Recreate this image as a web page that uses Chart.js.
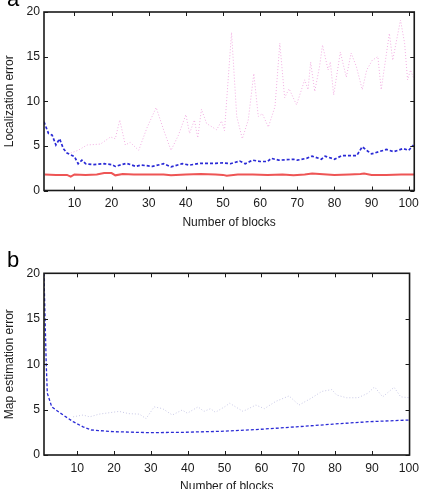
<!DOCTYPE html>
<html>
<head>
<meta charset="utf-8">
<script src="https://cdn.jsdelivr.net/npm/chart.js@4.4.1/dist/chart.umd.min.js"></script>
<style>
  html, body { margin: 0; padding: 0; background: #fff; overflow: hidden; }
  #wrap { position: relative; width: 425px; height: 489px; overflow: hidden; }
  canvas { position: absolute; left: 0; }
  #cA { top: 0; }
  #cB { top: 244px; }
  .lbl { position: absolute; font-family: 'Liberation Sans', Arial, sans-serif; font-size: 22px; line-height: 1; color: #000; }
</style>
</head>
<body>
<div id="wrap">
  <canvas id="cA" width="425" height="244"></canvas>
  <canvas id="cB" width="425" height="265"></canvas>
  <div class="lbl" style="left:7px; top:-12px;">a</div>
  <div class="lbl" style="left:7px; top:249px;">b</div>
</div>
<script>
// ticks
const xTicks = [10, 20, 30, 40, 50, 60, 70, 80, 90, 100];
const yTicks = [0, 5, 10, 15, 20];

// panel a - localization error
const redX = [2, 5, 8, 9, 10, 13, 16, 18, 20, 21, 23, 26, 30, 34, 36, 40, 44, 48, 50, 51, 54, 58, 62, 66, 69, 72, 74, 76, 80, 84, 87, 88, 90, 94, 98, 101.5];
const redY = [1.8, 1.75, 1.75, 1.55, 1.8, 1.75, 1.8, 1.95, 1.95, 1.7, 1.85, 1.8, 1.8, 1.8, 1.7, 1.8, 1.85, 1.8, 1.75, 1.65, 1.8, 1.8, 1.75, 1.8, 1.7, 1.8, 1.9, 1.85, 1.75, 1.8, 1.85, 1.9, 1.75, 1.75, 1.8, 1.8];

const blueX = [1.8, 3, 4, 5, 6, 7, 8, 10, 11, 12, 13, 15, 18, 20, 21, 24, 26.5, 28, 31, 34, 36, 39, 41, 44, 48, 50, 52, 54.5, 56, 58, 60, 62, 63, 65, 67, 69, 70, 72.5, 74, 76.5, 77.5, 80, 82, 86, 87.5, 89, 90, 92, 94, 96, 98.5, 100, 101.3];
const blueY = [7.7, 6.4, 6.2, 5.1, 5.8, 4.7, 4.2, 3.8, 3.0, 3.4, 3.0, 2.9, 3.0, 2.9, 2.7, 3.05, 2.7, 2.85, 2.7, 3.0, 2.65, 3.0, 2.85, 3.05, 3.05, 3.1, 3.0, 3.3, 3.0, 3.4, 3.25, 3.25, 3.6, 3.4, 3.45, 3.5, 3.4, 3.6, 3.85, 3.5, 3.85, 3.5, 3.9, 3.9, 4.9, 4.4, 4.1, 4.35, 4.6, 4.35, 4.7, 4.5, 5.1];

const pinkX = [9, 11, 13.4, 17, 19.7, 21, 22.2, 23.7, 25, 27.3, 29.5, 32, 34, 36, 38, 40, 41, 42.3, 43.2, 44.2, 45.6, 48.3, 49.6, 50.4, 52.3, 53.7, 55.2, 56.8, 58.3, 59.5, 60.6, 62.2, 64, 65.3, 66.6, 67.8, 69.8, 72, 72.9, 73.6, 74.7, 76, 76.8, 78.3, 78.9, 79.8, 81.6, 83.2, 84.5, 85.9, 87.5, 88.7, 90.2, 91.7, 92.6, 94.8, 95.7, 97.8, 98.9, 99.7, 100.5, 101.5];
const pinkY = [4.2, 4.5, 5.1, 5.2, 6.0, 5.8, 7.9, 5.1, 5.4, 4.5, 7.0, 9.3, 6.8, 4.5, 6.2, 8.5, 6.4, 7.9, 5.9, 9.1, 7.5, 6.8, 7.8, 6.7, 17.7, 8.3, 5.8, 7.9, 13.1, 8.3, 8.6, 7.1, 9.4, 16.5, 10.4, 11.4, 9.6, 12.4, 11.3, 14.4, 11.1, 13.9, 16.3, 13.5, 14.4, 10.7, 15.5, 12.7, 15.4, 13.9, 11.3, 13.5, 14.6, 15.0, 11.3, 17.6, 14.6, 19.1, 16.5, 12.4, 13.5, 12.4];

// panel b - map estimation error
const mapX = [1, 1.1, 1.3, 1.6, 1.9, 3.1, 5.3, 8.9, 11.6, 13.9, 19.7, 29.5, 39, 50, 59.7, 69.5, 79.4, 89.3, 100.2];
const mapY = [20, 18.2, 14.9, 10.1, 6.8, 5.3, 4.65, 3.67, 3.1, 2.75, 2.57, 2.46, 2.5, 2.62, 2.83, 3.1, 3.4, 3.67, 3.85];

const mapLightX = [8.9, 11.6, 13.4, 16, 18.7, 21.4, 24, 26.9, 28.7, 30.9, 33.2, 35.8, 38.5, 39.9, 42.8, 44.4, 46.2, 47.5, 50, 51.4, 55, 58.5, 60.8, 63.9, 67.5, 70.2, 73.3, 76.4, 79.1, 80.4, 83.1, 86.2, 88.9, 90.7, 92.9, 96, 97.8, 100.2];
const mapLightY = [4.2, 4.4, 4.2, 4.5, 4.65, 4.8, 4.55, 4.5, 4.0, 5.3, 5.1, 4.4, 4.95, 4.6, 5.3, 4.8, 5.1, 4.7, 5.3, 5.7, 4.8, 5.5, 5.1, 5.9, 6.5, 5.5, 6.2, 7.0, 7.2, 6.6, 6.3, 6.3, 6.8, 7.5, 6.4, 7.45, 6.4, 6.3];

function pts(xs, ys) {
    return xs.map((x, i) => ({ x: x, y: ys[i] }));
}

const fontTick = { family: "'Liberation Sans', Arial, sans-serif", size: 12.2 };
const fontTitle = { family: "'Liberation Sans', Arial, sans-serif", size: 12 };

// box round the plot with inward ticks on all four sides
const frameTicks = {
    id: 'frameTicks',
    afterDatasetsDraw(chart) {
        const { ctx, chartArea: a, scales: { x, y } } = chart;
        ctx.save();
        ctx.strokeStyle = '#1a1a1a';
        ctx.lineWidth = 1;
        ctx.beginPath();
        x.ticks.forEach(t => {
            const px = Math.round(x.getPixelForValue(t.value)) + 0.5;
            ctx.moveTo(px, a.bottom); ctx.lineTo(px, a.bottom - 4);
            ctx.moveTo(px, a.top); ctx.lineTo(px, a.top + 4);
        });
        y.ticks.forEach(t => {
            const py = Math.round(y.getPixelForValue(t.value)) + 0.5;
            ctx.moveTo(a.left, py); ctx.lineTo(a.left + 4, py);
            ctx.moveTo(a.right, py); ctx.lineTo(a.right - 4, py);
        });
        ctx.stroke();
        ctx.lineWidth = 1.6;
        ctx.strokeRect(a.left, a.top, a.right - a.left, a.bottom - a.top);
        ctx.restore();
    }
};

function makeOptions(cfg) {
    return {
        responsive: false,
        animation: false,
        devicePixelRatio: 1,
        layout: { padding: { top: cfg.padTop, right: cfg.padRight, left: 0, bottom: 0 } },
        plugins: { legend: { display: false }, tooltip: { enabled: false } },
        elements: { point: { radius: 0 }, line: { tension: 0 } },
        scales: {
            x: {
                type: 'linear',
                min: cfg.xMin,
                max: cfg.xMax,
                afterBuildTicks: s => { s.ticks = xTicks.map(v => ({ value: v })); },
                afterFit: s => { s.height = cfg.xH; },
                grid: { display: false, drawTicks: false },
                border: { display: false },
                ticks: { font: fontTick, color: '#1a1a1a', padding: 6, maxRotation: 0, autoSkip: false },
                title: { display: true, text: 'Number of blocks', font: fontTitle, color: '#1a1a1a', padding: { top: 0, bottom: cfg.titlePad } }
            },
            y: {
                min: 0,
                max: 20,
                afterBuildTicks: s => { s.ticks = yTicks.map(v => ({ value: v })); },
                afterFit: s => { s.width = 44; },
                grid: { display: false, drawTicks: false },
                border: { display: false },
                ticks: { font: fontTick, color: '#1a1a1a', padding: 4 },
                title: { display: true, text: cfg.yTitle, font: fontTitle, color: '#1a1a1a', padding: { top: 2, bottom: 0 } }
            }
        }
    };
}

new Chart(document.getElementById('cA'), {
    type: 'line',
    data: {
        datasets: [
            { data: pts(pinkX, pinkY), borderColor: '#f2aee2', borderWidth: 1, borderDash: [1, 2] },
            { data: pts(blueX, blueY), borderColor: '#2a2ad6', borderWidth: 1.7, borderDash: [3, 2] },
            { data: pts(redX, redY), borderColor: '#ee5555', borderWidth: 2 }
        ]
    },
    options: makeOptions({ padTop: 12, padRight: 10, xMin: 1.8, xMax: 101.5, xH: 53.5, titlePad: 14, yTitle: 'Localization error' }),
    plugins: [frameTicks]
});

new Chart(document.getElementById('cB'), {
    type: 'line',
    data: {
        datasets: [
            { data: pts(mapLightX, mapLightY), borderColor: '#c8c8e6', borderWidth: 1, borderDash: [1, 2] },
            { data: pts(mapX, mapY), borderColor: '#2a2ad6', borderWidth: 1.3, borderDash: [3, 2] }
        ]
    },
    options: makeOptions({ padTop: 29.3, padRight: 10.7, xMin: 1, xMax: 100.2, xH: 54, titlePad: 15.5, yTitle: 'Map estimation error' }),
    plugins: [frameTicks]
});
</script>
</body>
</html>
